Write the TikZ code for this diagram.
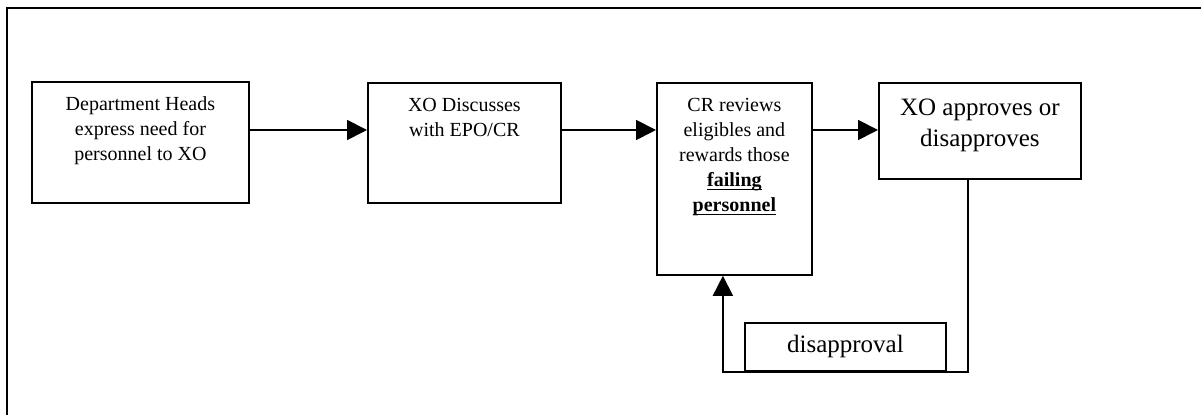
\documentclass[tikz,border=0pt]{standalone}
\usepackage{fontspec}
\setmainfont{Liberation Serif}
\usetikzlibrary{arrows.meta}

% underline sitting close to the baseline
\newcommand{\ulword}[1]{\setbox0\hbox{#1}\rlap{\rule[-1.8pt]{\wd0}{0.6pt}}\box0}

\tikzset{
  box/.style={draw, anchor=north west, inner sep=0pt},
  boxtext/.style={anchor=north, align=center, inner sep=0pt, yshift=-7.5pt,
                  font=\fontsize{10}{12.5}\selectfont},
  bigtext/.style={boxtext, yshift=-0.5pt, font=\fontsize{12.5}{15.5}\selectfont},
}

\begin{document}
\begin{tikzpicture}[x=0.5pt, y=-0.5pt, >={Triangle[length=10pt,width=10pt]}, line width=0.9pt]
    \useasboundingbox (0,0) rectangle (1201,415);
    \draw (7,415) -- (7,8) -- (1201,8);

    \node[box, minimum width=108.5pt, minimum height=60.5pt,
          label={[boxtext]north:Department Heads\\express need for\\personnel to XO}] (heads) at (31,81) {};
    \node[box, minimum width=96.5pt, minimum height=60pt,
          label={[boxtext]north:XO Discusses\\with EPO/CR}] (discuss) at (367,82) {};
    \node[box, minimum width=77.5pt, minimum height=96pt,
          label={[boxtext]north:CR reviews\\eligibles and\\rewards those\\\ulword{\textbf{failing}}\\\ulword{\textbf{personnel}}}] (review) at (656,82) {};
    \node[box, minimum width=101pt, minimum height=48pt,
          label={[bigtext]north:XO approves or\\disapproves}] (decide) at (878,82) {};
    \node[box, minimum width=100.5pt, minimum height=24pt,
          font=\fontsize{12.5}{15.5}\selectfont] (nogo) at (744,322) {disapproval};

    \coordinate (lane) at (0,130);
    \coordinate (loop) at (0,372);
    \coordinate (back) at ([xshift=-5.75pt]review.south);

    \draw[->] (heads.east |- lane) -- (discuss.west |- lane);
    \draw[->] (discuss.east |- lane) -- (review.west |- lane);
    \draw[->] (review.east |- lane) -- (decide.west |- lane);
    \draw[->] ([xshift=-6pt]decide.south) |- (back |- loop) -- (back);
\end{tikzpicture}
\end{document}
